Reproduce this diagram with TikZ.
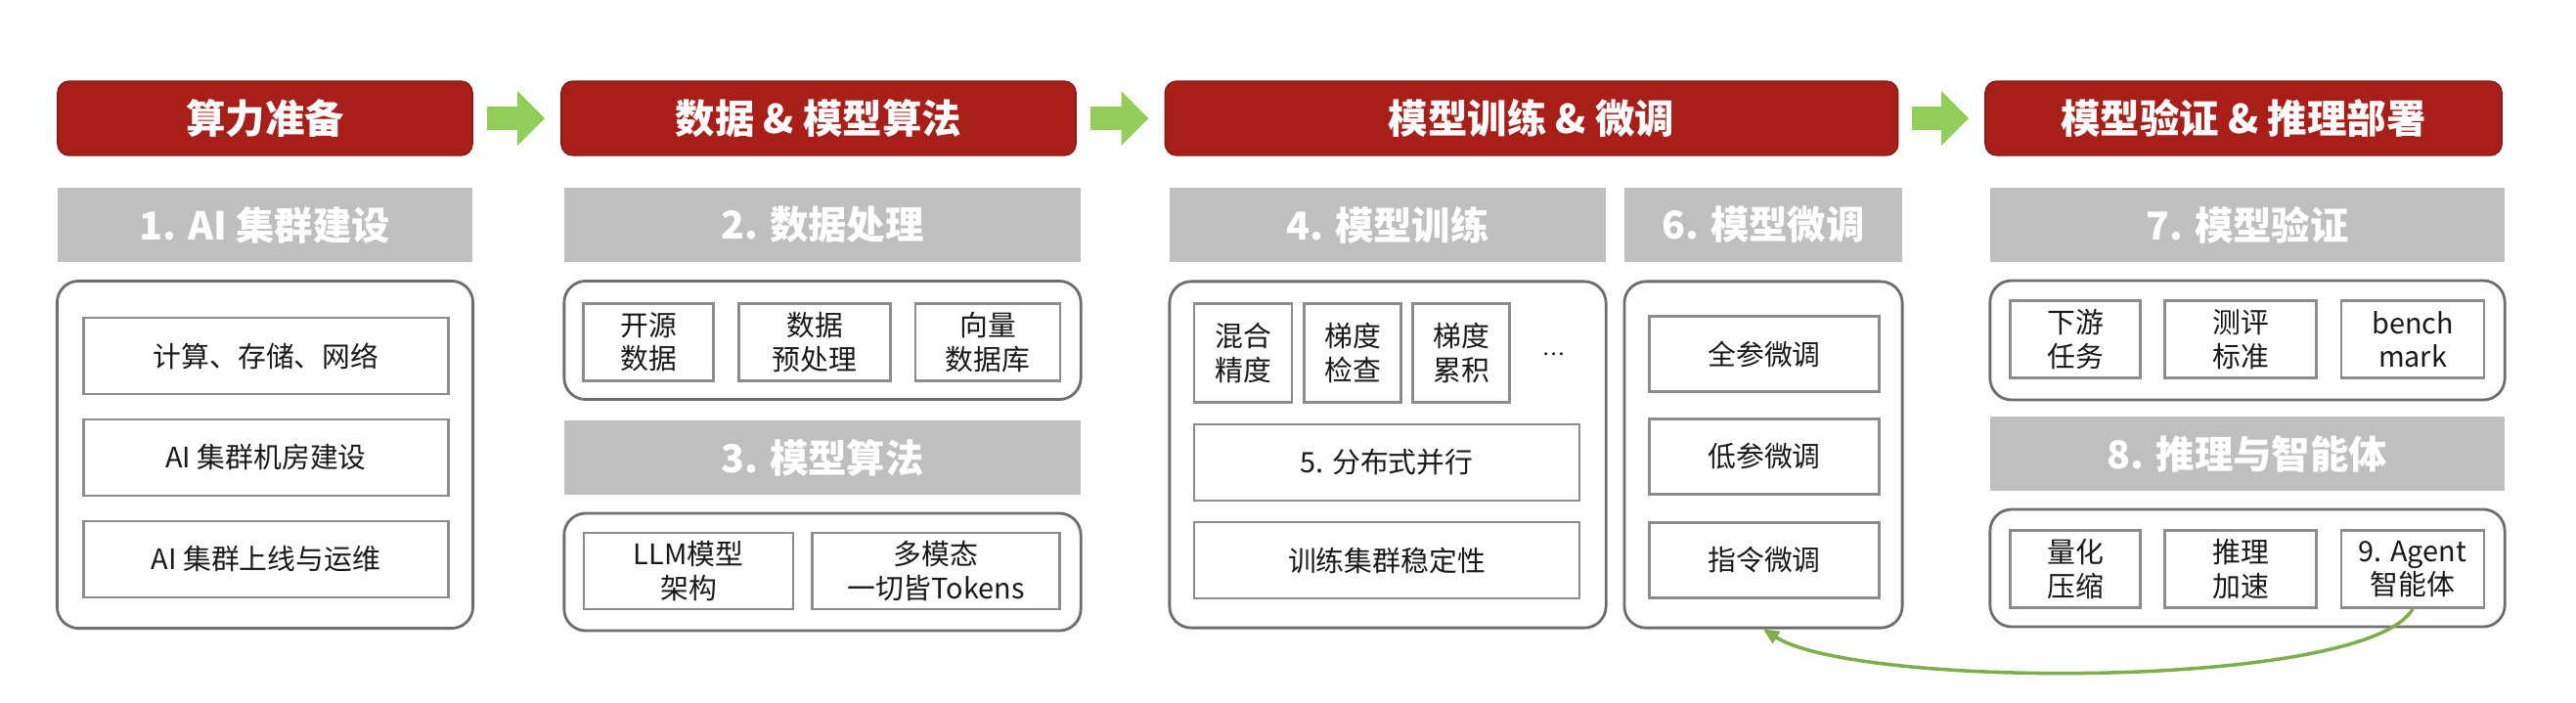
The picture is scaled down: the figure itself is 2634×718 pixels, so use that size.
\documentclass[tikz,border=0pt]{standalone}
\usepackage{fontspec}
\setmainfont{Noto Sans CJK SC}
\usetikzlibrary{arrows.meta}

\definecolor{stagered}{HTML}{A81F1A}
\definecolor{taskgray}{HTML}{BFBFBF}
\definecolor{flowgreen}{HTML}{92CD5A}
\definecolor{linegray}{HTML}{6E6E6E}
\definecolor{cellgray}{HTML}{8C8C8C}

\begin{document}
\begin{tikzpicture}[x=0.01cm, y=-0.01cm,
    stagebox/.style={rectangle, draw=stagered!80!black, fill=stagered, rounded corners=0.12cm,
                inner sep=0pt, minimum height=0.76cm, text=white,
                font=\fontsize{11.5}{13}\selectfont\bfseries},
    taskbar/.style={rectangle, fill=taskgray, inner sep=0pt, minimum height=0.76cm, text=white,
                font=\fontsize{11.2}{13}\selectfont\bfseries},
    panel/.style={rectangle, draw=linegray, line width=0.8pt, rounded corners=0.22cm, inner sep=0pt},
    cell/.style={rectangle, draw=cellgray, line width=0.7pt, fill=white, inner sep=0pt, align=center,
                text=black!90, font=\fontsize{8.2}{9.8}\selectfont},
    flow/.style={flowgreen, line width=0.23cm, -{Triangle[length=0.28cm, width=0.54cm]},
                shorten <=0.14cm, shorten >=0.16cm},
    back/.style={draw=flowgreen!85!black, line width=1pt, -{Triangle[length=0.16cm, width=0.14cm]}}
  ]
    \useasboundingbox (0,0) rectangle (2634,718);

    \node[stagebox, minimum width=4.24cm] (h1) at (271,121) {算力准备};
    \node[stagebox, minimum width=5.26cm] (h2) at (837,121) {数据 \& 模型算法};
    \node[stagebox, minimum width=7.49cm] (h3) at (1566,121) {模型训练 \& 微调};
    \node[stagebox, minimum width=5.28cm] (h4) at (2294,121) {模型验证 \& 推理部署};

    \draw[flow] (h1) -- (h2);
    \draw[flow] (h2) -- (h3);
    \draw[flow] (h3) -- (h4);

    \node[taskbar, minimum width=4.24cm] (g1) at (271,230) {1. AI 集群建设};
    \node[taskbar, minimum width=5.28cm] (g2) at (841,230) {2. 数据处理};
    \node[taskbar, minimum width=5.28cm] (g3) at (841,468) {3. 模型算法};
    \node[taskbar, minimum width=4.46cm] (g4) at (1419,230) {4. 模型训练};
    \node[taskbar, minimum width=2.84cm] (g6) at (1803,230) {6. 模型微调};
    \node[taskbar, minimum width=5.26cm] (g7) at (2298,230) {7. 模型验证};
    \node[taskbar, minimum width=5.26cm] (g8) at (2298,464) {8. 推理与智能体};

    \node[panel, minimum width=4.25cm, minimum height=3.55cm] (p1) at (271,465) {};
    \node[panel, minimum width=5.28cm, minimum height=1.21cm] (p2) at (841,348) {};
    \node[panel, minimum width=5.28cm, minimum height=1.20cm] (p3) at (841,585) {};
    \node[panel, minimum width=4.46cm, minimum height=3.54cm] (p4) at (1419,465) {};
    \node[panel, minimum width=2.84cm, minimum height=3.54cm] (p6) at (1803,465) {};
    \node[panel, minimum width=5.26cm, minimum height=1.22cm] (p7) at (2298,348) {};
    \node[panel, minimum width=5.26cm, minimum height=1.20cm] (p8) at (2298,581) {};

    \node[cell, minimum width=3.73cm, minimum height=0.78cm] (c1) at (272,364) {计算、存储、网络};
    \node[cell, minimum width=3.73cm, minimum height=0.78cm] (c2) at (272,468) {AI 集群机房建设};
    \node[cell, minimum width=3.73cm, minimum height=0.78cm] (c3) at (272,572) {AI 集群上线与运维};

    \node[cell, minimum width=1.33cm, minimum height=0.79cm] (d1) at (663,350) {开源\\数据};
    \node[cell, minimum width=1.55cm, minimum height=0.79cm] (d2) at (833,350) {数据\\预处理};
    \node[cell, minimum width=1.48cm, minimum height=0.79cm] (d3) at (1010,350) {向量\\数据库};

    \node[cell, minimum width=2.14cm, minimum height=0.78cm] (m1) at (704,584) {LLM模型\\架构};
    \node[cell, minimum width=2.53cm, minimum height=0.78cm] (m2) at (957,584) {多模态\\一切皆Tokens};

    \node[cell, minimum width=1.00cm, minimum height=1.01cm] (t1) at (1271,361) {混合\\精度};
    \node[cell, minimum width=0.99cm, minimum height=1.01cm] (t2) at (1383,361) {梯度\\检查};
    \node[cell, minimum width=0.99cm, minimum height=1.01cm] (t3) at (1494,361) {梯度\\累积};
    \node[font=\fontsize{6}{7}\selectfont] (more) at (1589,362) {…};
    \node[cell, minimum width=3.94cm, minimum height=0.78cm] (t5) at (1418,473) {5. 分布式并行};
    \node[cell, minimum width=3.94cm, minimum height=0.78cm] (t6) at (1418,573) {训练集群稳定性};

    \node[cell, minimum width=2.35cm, minimum height=0.77cm] (f1) at (1804,362) {全参微调};
    \node[cell, minimum width=2.35cm, minimum height=0.77cm] (f2) at (1804,467) {低参微调};
    \node[cell, minimum width=2.35cm, minimum height=0.77cm] (f3) at (1804,573) {指令微调};

    \node[cell, minimum width=1.33cm, minimum height=0.79cm] (v1) at (2122,347) {下游\\任务};
    \node[cell, minimum width=1.55cm, minimum height=0.79cm] (v2) at (2291,347) {测评\\标准};
    \node[cell, minimum width=1.46cm, minimum height=0.79cm] (v3) at (2467,347) {bench\\mark};

    \node[cell, minimum width=1.33cm, minimum height=0.79cm] (a1) at (2122,582) {量化\\压缩};
    \node[cell, minimum width=1.55cm, minimum height=0.79cm] (a2) at (2291,582) {推理\\加速};
    \node[cell, minimum width=1.46cm, minimum height=0.79cm] (a3) at (2467,582) {9. Agent\\智能体};

    \draw[back] (a3.south) .. controls (2420,705) and (1900,705) .. (p6.south);
  \end{tikzpicture}
\end{document}
